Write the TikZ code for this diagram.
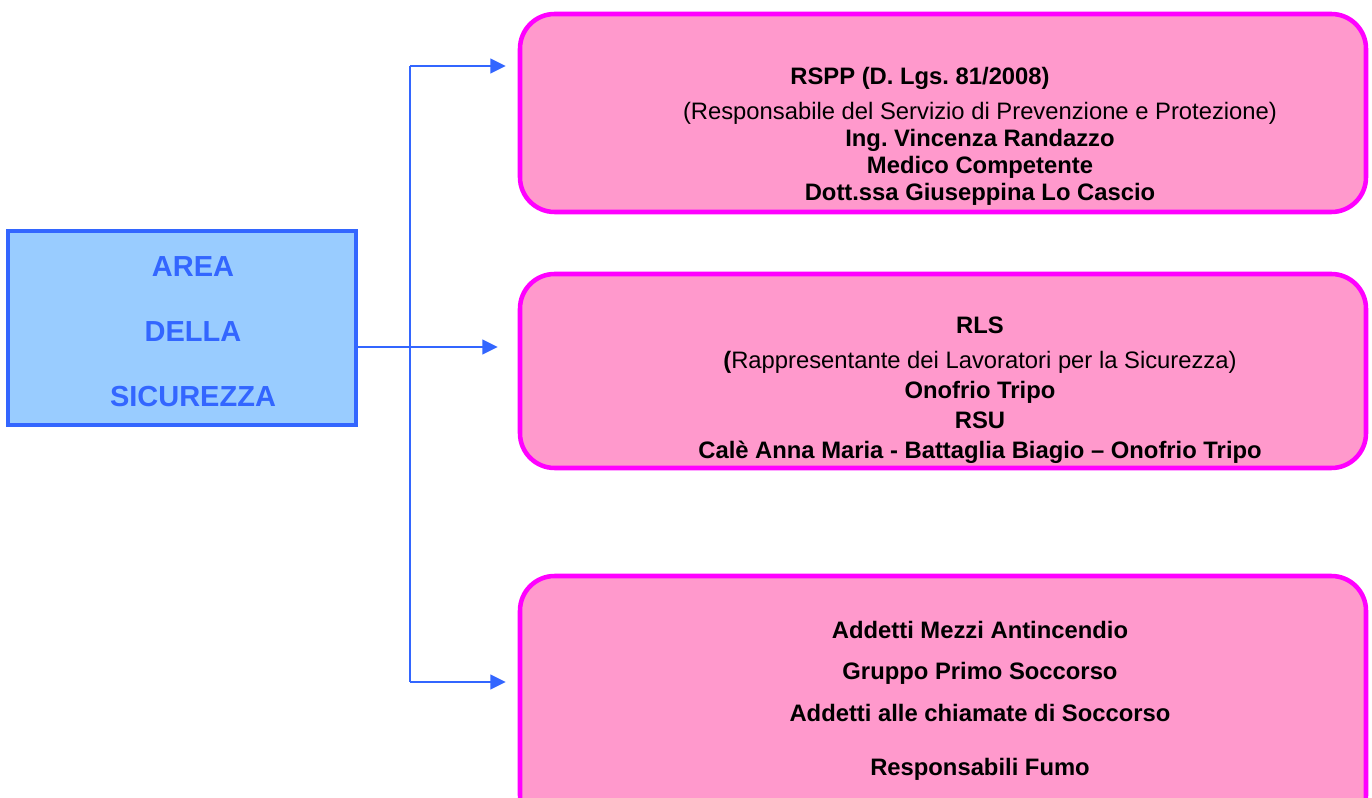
\documentclass[tikz,border=0pt]{standalone}
\usepackage{fontspec}
\setmainfont{Liberation Sans}
\frenchspacing
\usetikzlibrary{arrows.meta}
\definecolor{areablue}{RGB}{51,102,255}
\definecolor{areafill}{RGB}{153,204,255}
\definecolor{rolepink}{RGB}{255,153,204}
\definecolor{roleedge}{RGB}{255,0,255}

\begin{document}
\begin{tikzpicture}[x=0.75pt, y=-0.75pt,
  >={Triangle[length=11.5pt, width=11pt]},
  area/.style={draw=areablue, fill=areafill, line width=3pt, inner sep=0pt,
    minimum width=261pt, minimum height=145.5pt},
  role/.style={draw=roleedge, fill=rolepink, line width=3.4pt,
    rounded corners=26pt, inner sep=0pt, minimum width=634.5pt},
  txt/.style={inner sep=0pt, align=center, text=black},
  link/.style={draw=areablue, line width=1.5pt}]
\fill[white] (0,0) rectangle (1372,798);
\useasboundingbox (0,0) rectangle (1372,798);
% left box
\node[area] (area) at (182,328) {};
\node[txt, text=areablue, font=\fontsize{21.75}{48.75}\selectfont\bfseries]
  (areat) at (193,332) {AREA\\DELLA\\SICUREZZA};
% right boxes
\node[role, minimum height=148.5pt] (rspp) at (943,113) {};
\node[role, minimum height=145.5pt] (rls) at (943,371) {};
\node[role, minimum height=190.5pt] (addetti) at (943,703) {};
\node[txt, font=\fontsize{17.85}{20.25}\selectfont] (rsppt) at (980,136)
  {\textbf{RSPP (D. Lgs. 81/2008)}\hspace*{90pt}\\[6pt]
   (Responsabile del Servizio di Prevenzione e Protezione)\\
   \textbf{Ing. Vincenza Randazzo}\\
   \textbf{Medico Competente}\\
   \textbf{Dott.ssa Giuseppina Lo Cascio}};
\node[txt, font=\fontsize{17.85}{22.5}\selectfont] (rlst) at (980,390)
  {\textbf{RLS}\\[3.75pt]
   \textbf{(}Rappresentante dei Lavoratori per la Sicurezza)\\
   \textbf{Onofrio Tripo}\\
   \textbf{RSU}\\
   \textbf{Calè Anna Maria - Battaglia Biagio – Onofrio Tripo}};
\node[txt, font=\fontsize{17.85}{31}\selectfont\bfseries] (addettit) at (980,701)
  {Addetti Mezzi Antincendio\\
   Gruppo Primo Soccorso\\
   Addetti alle chiamate di Soccorso\\[10pt]
   Responsabili Fumo};
% connectors
\coordinate (bustop) at (410,66);
\coordinate (busmid) at (410,347);
\coordinate (busbot) at (410,682);
\draw[link] (bustop) -- (busbot);
\draw[link, ->, shorten >=15pt] (area.east |- busmid) -- (busmid -| rls.west);
\draw[link, ->, shorten >=9pt] (bustop) -- (bustop -| rspp.west);
\draw[link, ->, shorten >=9pt] (busbot) -- (busbot -| addetti.west);
\end{tikzpicture}
\end{document}
